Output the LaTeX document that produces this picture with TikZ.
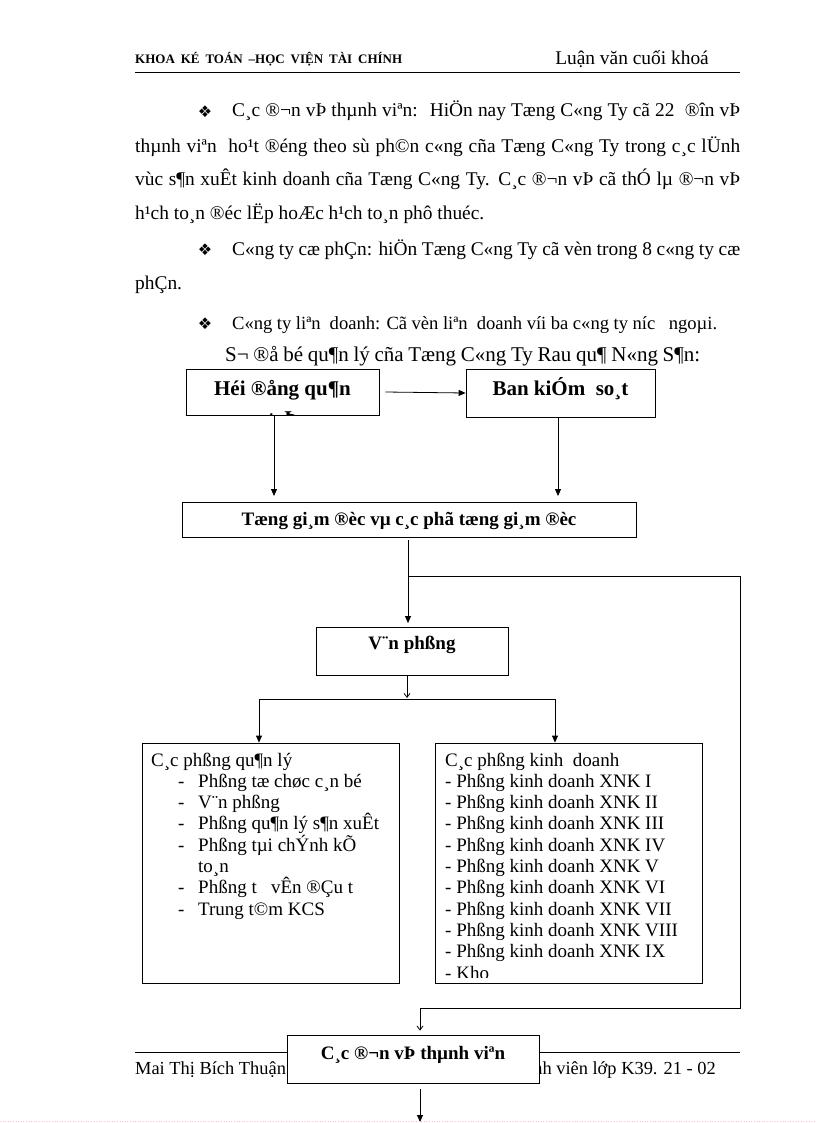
\documentclass[tikz,border=0pt]{standalone}
\usepackage{fontspec}
\setmainfont{Liberation Serif}
\newfontfamily\symfont{DejaVu Sans}
\usetikzlibrary{arrows.meta,calc}
\begin{document}
\begin{tikzpicture}[x=1pt,y=-1pt,
  box/.style={draw, line width=0.8pt, inner sep=0pt, fill=white},
  ln/.style={line width=0.8pt},
  arr/.style={line width=0.8pt, -{Triangle[length=7pt,width=6pt]}},
  oarr/.style={line width=0.8pt, -{Straight Barb[length=4pt,width=6pt]}},
  body/.style={inner sep=0pt, anchor=base west, font=\fontsize{19.4}{23}\selectfont},
  bodye/.style={inner sep=0pt, anchor=base east, font=\fontsize{19.4}{23}\selectfont},
  foot/.style={inner sep=0pt, font=\fontsize{18.4}{22}\selectfont},
  bul/.style={inner sep=0pt, font=\symfont\fontsize{16}{16}\selectfont},
  bigb/.style={inner sep=0pt, anchor=base, font=\bfseries\fontsize{21}{24}\selectfont},
  midb/.style={inner sep=0pt, anchor=base, font=\bfseries\fontsize{19}{22}\selectfont},
  lt/.style={inner sep=0pt, anchor=base west, font=\fontsize{19}{21}\selectfont}
]
\useasboundingbox (0,0) rectangle (816,1123);

% ---------- header ----------
\node[inner sep=0pt, anchor=base west, font=\bfseries\fontsize{13}{13}\selectfont] (hl) at (135,64)
  {\makebox[267pt][s]{KHOA KÉ TOÁN –HỌC VIỆN TÀI CHÍNH}};
\node[bodye] (hr) at (709,65) {Luận văn cuối khoá};
\draw[line width=0.9pt] (135,72) -- (740,72);

% ---------- paragraphs ----------
\node[bul] (b1) at (205,112) {❖};
\node[body] (p1a) at (232,117) {\makebox[508pt][s]{C¸c ®¬n vÞ thµnh viªn:~ HiÖn nay Tæng C«ng Ty cã 22~ ®în vÞ}};
\node[body] (p1b) at (135,153) {\makebox[605pt][s]{thµnh viªn~ ho¹t ®éng theo sù ph©n c«ng cña Tæng C«ng Ty trong c¸c lÜnh}};
\node[body] (p1c) at (135,186) {\makebox[605pt][s]{vùc s¶n xuÊt kinh doanh cña Tæng C«ng Ty. C¸c ®¬n vÞ cã thÓ lµ ®¬n vÞ}};
\node[body] (p1d) at (135,219) {h¹ch to¸n ®éc lËp hoÆc h¹ch to¸n phô thuéc.};

\node[bul] (b2) at (205,250) {❖};
\node[body] (p2a) at (232,255) {\makebox[508pt][s]{C«ng ty cæ phÇn: hiÖn Tæng C«ng Ty cã vèn trong 8 c«ng ty cæ}};
\node[body] (p2b) at (135,289) {phÇn.};

\node[bul] (b3) at (205,324) {❖};
\node[body, font=\fontsize{18.6}{22}\selectfont] (p3a) at (232,329) {\makebox[485pt][s]{C«ng ty liªn~ doanh: Cã vèn liªn~ doanh víi ba c«ng ty níc~~ ngoµi.}};

\node[body, font=\fontsize{21}{24}\selectfont] (title) at (225,361) {\makebox[475pt][s]{S¬ ®å bé qu¶n lý cña Tæng C«ng Ty Rau qu¶ N«ng S¶n:}};

% ---------- boxes ----------
\node[box, minimum width=193pt, minimum height=46pt] (hdqt) at (282.5,392) {};
\node[bigb] (hdqtT) at (282.5,395) {Héi ®ång qu¶n};
\begin{scope}
  \clip ([shift={(0.4,0.4)}]hdqt.south west) rectangle ([shift={(-0.4,-0.4)}]hdqt.north east);
  \node[bigb] (hdqtT2) at (282.5,425) {trÞ};
\end{scope}

\node[box, minimum width=189pt, minimum height=48pt] (bks) at (560.5,393) {};
\node[bigb] (bksT) at (560.5,395) {Ban kiÓm~ so¸t};

\node[box, minimum width=454pt, minimum height=35pt] (tgd) at (409,519.5) {};
\node[midb] (tgdT) at (409,525) {Tæng gi¸m ®èc vµ c¸c phã tæng gi¸m ®èc};

\node[box, minimum width=192pt, minimum height=48pt] (vp) at (412,651) {};
\node[midb] (vpT) at (412,649) {V¨n phßng};

\node[box, minimum width=257pt, minimum height=240pt] (lb) at (270.5,863) {};
\node[box, minimum width=267pt, minimum height=240pt] (rb) at (568.5,863) {};

% left list
\node[lt] (l0) at (151,766) {C¸c phßng qu¶n lý};
\foreach \t/\k [count=\i] in {Phßng tæ chøc c¸n bé/1, V¨n phßng/2, Phßng qu¶n lý s¶n xuÊt/3, Phßng tµi chÝnh kÕ/4, Phßng t~~ vÊn ®Çu t/6, Trung t©m KCS/7}{
  \node[lt] (ld\i) at (178,{766+21.3*\k}) {-};
  \node[lt] (li\i) at (198,{766+21.3*\k}) {\t};
}
\node[lt] (l5) at (198,{766+21.3*5}) {to¸n};

% right list
\begin{scope}
  \clip (rb.north west) rectangle ($(rb.south east)+(0,-6)$);
  \foreach \t [count=\i from 0] in {C¸c phßng kinh~ doanh, - Phßng kinh doanh XNK I, - Phßng kinh doanh XNK II, - Phßng kinh doanh XNK III, - Phßng kinh doanh XNK IV, - Phßng kinh doanh XNK V, - Phßng kinh doanh XNK VI, - Phßng kinh doanh XNK VII, - Phßng kinh doanh XNK VIII, - Phßng kinh doanh XNK IX, - Kho}{
    \node[lt] (r\i) at (445,{766+21.3*\i}) {\t};
  }
\end{scope}

% footer (drawn before the last box, which covers part of it)
\draw[line width=0.9pt] (135,1052) -- (740,1052);
\node[foot, anchor=base west] (fl) at (135,1074) {Mai Thị Bích Thuận};
\node[foot, anchor=base east] (fr) at (716,1074) {Sinh viên lớp K39. 21 - 02};

\node[box, minimum width=252pt, minimum height=48pt] (dv) at (413,1059) {};
\node[midb] (dvT) at (413,1059) {C¸c ®¬n vÞ thµnh viªn};

% ---------- connectors ----------
\draw[arr] ([xshift=6pt]hdqt.east) -- (bks.west);

\coordinate (h1) at (274,496);
\coordinate (k1) at (558,496);
\draw[arr] (hdqt.south -| h1) -- (h1);
\draw[arr] (bks.south -| k1) -- (k1);

\coordinate (vin) at (408,623);
\coordinate (br) at (408,576);
\coordinate (c1) at (740,576);
\coordinate (c2) at (740,1008);
\coordinate (c3) at (420,1008);
\draw[arr] ($(tgd.south -| vin)+(0,3)$) -- (vin);
\draw[ln] (br) -- (c1) -- (c2) -- (c3);
\draw[oarr] (c3) -- ($(c3 |- dv.north)+(0,-4)$);

\coordinate (j) at (407,699);
\coordinate (jl) at (259,699);
\coordinate (jr) at (555,699);
\draw[oarr] (vp.south -| j) -- ($(j)+(0,-1)$);
\draw[ln] (jl) -- (jr);
\draw[arr] (jl) -- (jl |- lb.north);
\draw[arr] (jr) -- (jr |- rb.north);

\coordinate (bt) at (420,1122);
\draw[arr] ($(dv.south -| bt)+(0,6)$) -- (bt);

\draw[red!25, dotted, line width=0.6pt] (0,1121.5) -- (816,1121.5);
\end{tikzpicture}
\end{document}
